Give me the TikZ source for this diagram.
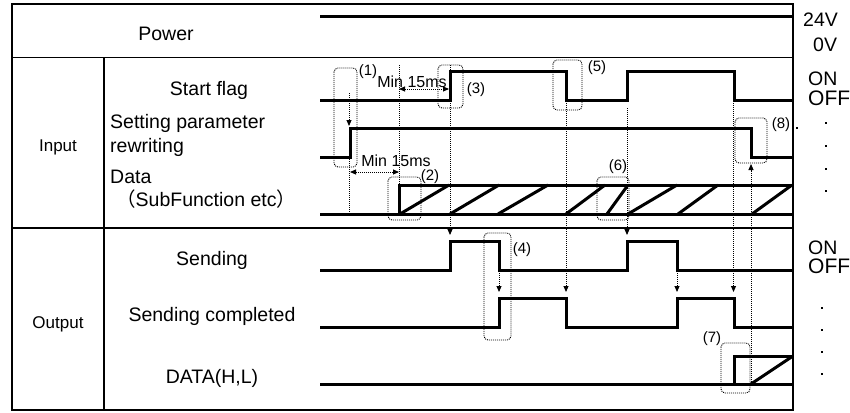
\documentclass[tikz,border=0pt]{standalone}
\usepackage{fontspec}
\setmainfont{Liberation Sans}
\newfontfamily\cjkfont{Noto Sans CJK JP}
\usetikzlibrary{arrows.meta}
\begin{document}
\begin{tikzpicture}[x=1pt,y=-1pt,
  sig/.style={line width=3pt, line join=miter},
  grid/.style={line width=1.2pt},
  dots/.style={line width=0.9pt, dash pattern=on 1pt off 1pt},
  dotbox/.style={dots, rounded corners=4pt},
  darr/.style={dots, -{Triangle[length=6pt,width=5pt]}},
  dbl/.style={dots, {Triangle[length=6pt,width=5pt]}-{Triangle[length=6pt,width=5pt]}},
  lab/.style={inner sep=0pt, font=\fontsize{19.5}{22}\selectfont},
  grp/.style={inner sep=0pt, font=\fontsize{17}{20}\selectfont},
  sm/.style={inner sep=0pt, font=\fontsize{15}{17}\selectfont},
  mn/.style={inner sep=0pt, font=\fontsize{16}{18}\selectfont}
]
\useasboundingbox (0,0) rectangle (850,412);
% table
\draw[grid] (12,4) rectangle (793,410);
\draw[grid] (12,57.5) -- (793,57.5);
\draw[grid] (12,228) -- (793,228);
\draw[grid] (104,57.5) -- (104,410);
% labels
\node[lab, anchor=base] (power) at (166,41) {Power};
\node[grp, anchor=base] (input) at (58,151) {Input};
\node[grp, anchor=base] (output) at (58,328) {Output};
\node[lab, anchor=base] (start) at (209,95) {Start flag};
\node[lab, anchor=base west] (setp) at (110,128) {Setting parameter};
\node[lab, anchor=base west] (rewr) at (110,152) {rewriting};
\node[lab, anchor=base west] (data) at (110,183) {Data};
\node[lab, anchor=base west] (subf) at (116,206) {{\cjkfont （}SubFunction etc{\cjkfont ）}};
\node[lab, anchor=base] (send) at (212,265) {Sending};
\node[lab, anchor=base] (sendc) at (212,321) {Sending completed};
\node[lab, anchor=base] (dhl) at (212,383) {DATA(H,L)};
% right labels
\node[lab, anchor=base west] (v24) at (803,27) {24V};
\node[lab, anchor=base west] (v0) at (813,52) {0V};
\node[lab, anchor=base west] (on1) at (808,85) {ON};
\node[lab, anchor=base west, font=\fontsize{21}{24}\selectfont] (off1) at (808,105) {OFF};
\node[lab, anchor=base west] (on2) at (808,254) {ON};
\node[lab, anchor=base west, font=\fontsize{21}{24}\selectfont] (off2) at (808,273) {OFF};
\foreach \yy in {123,146,169,191} \fill (824.8,\yy-1.2) rectangle ++(2.5,2.5);
\foreach \yy in {308,330,352,374} \fill (820.8,\yy-1.2) rectangle ++(2.5,2.5);
% signals
\draw[sig] (320,17) -- (793,17);
\draw[sig] (320,100) -- (450,100) -- (450,71) -- (566,71) -- (566,100) -- (627,100) -- (627,71) -- (734,71) -- (734,100) -- (793,100);
\draw[sig] (320,157) -- (350,157) -- (350,128) -- (751,128) -- (751,157) -- (793,157);
\draw[sig] (320,214) -- (793,214);
\draw[sig] (399,214) -- (399,185) -- (793,185);
\foreach \a/\b in {400/449,450/499,498/548,566/605,607/628,628/677,678/718,752/792}
  \draw[sig] (\a,214) -- (\b,185);
\draw[sig] (320,270) -- (450,270) -- (450,241) -- (499,241) -- (499,270) -- (627,270) -- (627,241) -- (677,241) -- (677,270) -- (793,270);
\draw[sig] (320,327) -- (499,327) -- (499,298) -- (566,298) -- (566,327) -- (677,327) -- (677,298) -- (734,298) -- (734,327) -- (793,327);
\draw[sig] (320,384) -- (793,384);
\draw[sig] (734,384) -- (734,356) -- (793,356);
\draw[sig] (751,384) -- (793,356);
% dotted guide lines and arrows
\coordinate (a1s) at (349,93); \coordinate (a1e) at (349,126);
\draw[darr] (a1s) -- (a1e);
\coordinate (g1s) at (349.5,157); \coordinate (g1e) at (349.5,214);
\draw[dots] (g1s) -- (g1e);
\coordinate (g2s) at (399,65); \coordinate (g2e) at (399,185);
\draw[dots] (g2s) -- (g2e);
\coordinate (a2s) at (450,65); \coordinate (a2e) at (450,235);
\draw[darr] (a2s) -- (a2e);
\coordinate (a3s) at (566,101); \coordinate (a3e) at (566,292);
\draw[darr] (a3s) -- (a3e);
\coordinate (a4s) at (627,108); \coordinate (a4e) at (627,235);
\draw[darr] (a4s) -- (a4e);
\coordinate (a5s) at (499,271); \coordinate (a5e) at (499,292);
\draw[darr] (a5s) -- (a5e);
\coordinate (a6s) at (677,271); \coordinate (a6e) at (677,292);
\draw[darr] (a6s) -- (a6e);
\coordinate (a7s) at (733.5,103); \coordinate (a7e) at (733.5,292);
\draw[darr] (a7s) -- (a7e);
\coordinate (a8s) at (751,384); \coordinate (a8e) at (751,164);
\draw[darr] (a8s) -- (a8e);
\coordinate (m1s) at (399,89); \coordinate (m1e) at (449,89);
\draw[dbl] (m1s) -- (m1e);
\coordinate (m2s) at (350,172); \coordinate (m2e) at (399,172);
\draw[dbl] (m2s) -- (m2e);
% dotted boxes
\draw[dotbox] (334,68) rectangle (357,167);
\draw[dotbox] (388,177) rectangle (421,220);
\draw[dotbox] (438,65) rectangle (463,108);
\draw[dotbox] (484,233) rectangle (511,340);
\draw[dotbox] (553,60) rectangle (582,110);
\draw[dotbox] (597,177) rectangle (629,220);
\draw[dotbox] (721,343) rectangle (750,393);
\draw[dotbox] (735,118) rectangle (767,163);
% small labels
\node[sm] (l1) at (368,72) {(1)};
\node[mn] (min1) at (412,82) {Min 15ms};
\node[mn] (min2) at (396,161) {Min 15ms};
\node[sm] (l2) at (430,177) {(2)};
\node[sm] (l3) at (476,90) {(3)};
\node[sm] (l4) at (522,250) {(4)};
\node[sm] (l5) at (597,68) {(5)};
\node[sm] (l6) at (618,167) {(6)};
\node[sm] (l7) at (712,339) {(7)};
\node[sm] (l8) at (781,125) {(8)};
\fill (796.3,127.3) rectangle ++(1.4,1.4);
\end{tikzpicture}
\end{document}
